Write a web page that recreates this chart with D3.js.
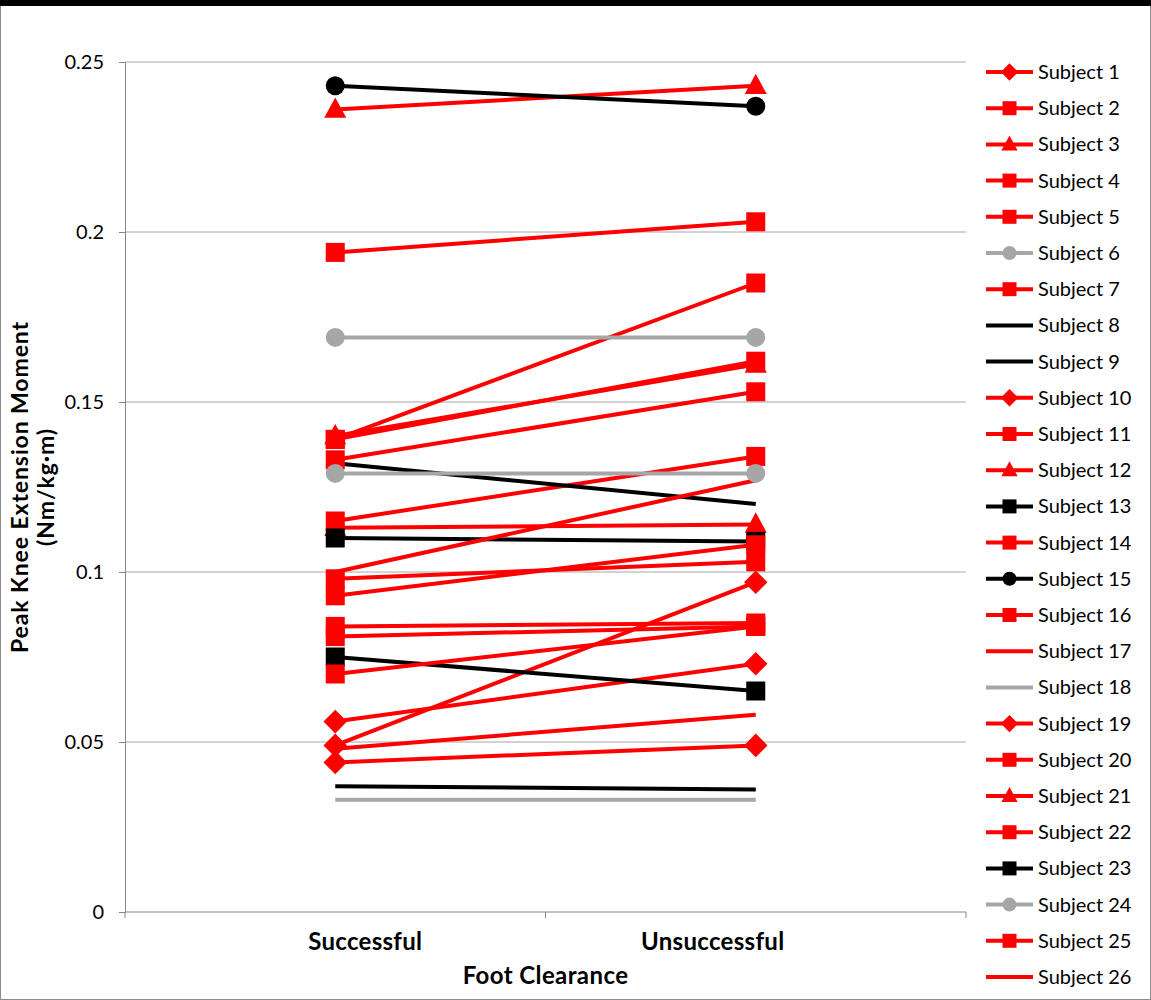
<!DOCTYPE html>
<html>
<head>
<meta charset="utf-8">
<script src="https://cdn.jsdelivr.net/npm/d3@7"></script>
<style>
  body { margin: 0; background: #fff; }
  text { font-family: Lato, "Noto Sans", sans-serif; fill: #000; }
</style>
</head>
<body>
<div id="chart"></div>
<script>
// categories on the x axis
const categories = ["Successful", "Unsuccessful"];
const yTicks = [0, 0.05, 0.1, 0.15, 0.2, 0.25];

// one entry per subject: [successful, unsuccessful]
const subjects = ["Subject 1","Subject 2","Subject 3","Subject 4","Subject 5","Subject 6","Subject 7",
  "Subject 8","Subject 9","Subject 10","Subject 11","Subject 12","Subject 13","Subject 14","Subject 15",
  "Subject 16","Subject 17","Subject 18","Subject 19","Subject 20","Subject 21","Subject 22","Subject 23",
  "Subject 24","Subject 25","Subject 26"];
const values = [
  [0.044, 0.049], [0.194, 0.203], [0.236, 0.243], [0.139, 0.185], [0.115, 0.134],
  [0.169, 0.169], [0.098, 0.103], [0.132, 0.120], [0.037, 0.036], [0.049, 0.097],
  [0.139, 0.162], [0.113, 0.114], [0.110, 0.109], [0.093, 0.108], [0.243, 0.237],
  [0.084, 0.085], [0.100, 0.127], [0.033, 0.033], [0.056, 0.073], [0.133, 0.153],
  [0.140, 0.161], [0.081, 0.084], [0.075, 0.065], [0.129, 0.129], [0.070, 0.084],
  [0.048, 0.058]
];
const colorsBySubject = ["red","red","red","red","red","gray","red","black","black","red","red","red","black",
  "red","black","red","red","gray","red","red","red","red","black","gray","red","red"];
const markersBySubject = ["diamond","square","triangle","square","square","circle","square","none","none",
  "diamond","square","triangle","square","square","circle","square","none","none","diamond","square",
  "triangle","square","square","circle","square","none"];

const colorMap = { red: "#ff0000", black: "#000000", gray: "#a6a6a6" };

const W = 1151, H = 1000;
const plot = { left: 125, right: 966, top: 62, bottom: 912 };

const svg = d3.select("#chart").append("svg")
  .attr("width", W).attr("height", H);

// frame
svg.append("rect").attr("x", 0.5).attr("y", 0.5).attr("width", W - 1).attr("height", H - 1)
  .attr("fill", "#fff").attr("stroke", "#8c8c8c");
svg.append("rect").attr("x", 0).attr("y", 0).attr("width", W).attr("height", 6).attr("fill", "#000");

const x = d3.scaleBand().domain(categories).range([plot.left, plot.right]);
const y = d3.scaleLinear().domain([0, 0.25]).range([plot.bottom, plot.top]);

// gridlines
svg.append("g").selectAll("line").data(yTicks.filter(d => d > 0)).join("line")
  .attr("x1", plot.left).attr("x2", plot.right)
  .attr("y1", d => y(d)).attr("y2", d => y(d))
  .attr("stroke", "#a6a6a6").attr("stroke-width", 1);

// y axis
const yAxis = svg.append("g").attr("transform", `translate(${plot.left},0)`)
  .call(d3.axisLeft(y).tickValues(yTicks).tickFormat(d => d === 0 ? "0" : String(d)).tickSize(6).tickPadding(15));
yAxis.select(".domain").attr("stroke", "#868686");
yAxis.selectAll(".tick line").attr("stroke", "#868686");
yAxis.selectAll(".tick text").style("font-size", "20px").attr("fill", "#000");

// x axis
const xAxis = svg.append("g").attr("transform", `translate(0,${plot.bottom})`)
  .call(d3.axisBottom(x).tickSize(0).tickFormat(""));
xAxis.select(".domain").attr("stroke", "#868686").attr("d", `M${plot.left},0H${plot.right}`);
svg.append("g").selectAll("line")
  .data([plot.left, ...categories.map(c => x(c) + x.bandwidth())]).join("line")
  .attr("x1", d => d).attr("x2", d => d)
  .attr("y1", plot.bottom).attr("y2", plot.bottom + 6)
  .attr("stroke", "#868686");

const labelShift = { "Successful": 30, "Unsuccessful": -43 };
svg.append("g").selectAll("text").data(categories).join("text")
  .attr("x", d => x(d) + x.bandwidth() / 2 + labelShift[d])
  .attr("y", 950)
  .attr("text-anchor", "middle")
  .style("font-size", "24px").style("font-weight", "bold").style("letter-spacing", "0.3px")
  .text(d => d);

svg.append("text").attr("x", (plot.left + plot.right) / 2).attr("y", 984)
  .attr("text-anchor", "middle").style("font-size", "24px").style("font-weight", "bold")
  .style("letter-spacing", "0.4px")
  .text("Foot Clearance");

const yTitle = svg.append("text")
  .attr("transform", `translate(28,${(plot.top + plot.bottom) / 2}) rotate(-90)`)
  .attr("text-anchor", "middle").style("font-size", "23px").style("font-weight", "bold")
  .style("letter-spacing", "0.9px");
yTitle.append("tspan").attr("x", 0).attr("dy", 0).text("Peak Knee Extension Moment");
yTitle.append("tspan").attr("x", 0).attr("dy", 26).text("(Nm/kg\u00b7m)");

// marker drawing
function drawMarker(g, type, cx, cy, size, fill) {
  if (type === "none") return;
  if (type === "square") {
    g.append("rect").attr("x", cx - size / 2).attr("y", cy - size / 2)
      .attr("width", size).attr("height", size).attr("fill", fill);
  } else if (type === "circle") {
    g.append("circle").attr("cx", cx).attr("cy", cy).attr("r", size / 2).attr("fill", fill);
  } else if (type === "diamond") {
    const s = size * 0.62;
    g.append("path").attr("d", `M${cx},${cy - s}L${cx + s},${cy}L${cx},${cy + s}L${cx - s},${cy}Z`).attr("fill", fill);
  } else if (type === "triangle") {
    const s = size * 0.58;
    g.append("path").attr("d", `M${cx},${cy - s * 1.1}L${cx + s},${cy + s * 0.75}L${cx - s},${cy + s * 0.75}Z`).attr("fill", fill);
  }
}

const cx = c => x(c) + x.bandwidth() / 2;
const line = d3.line().x(d => cx(d.cat)).y(d => y(d.v));

subjects.forEach((name, i) => {
  const col = colorMap[colorsBySubject[i]];
  const pts = categories.map((c, j) => ({ cat: c, v: values[i][j] }));
  const g = svg.append("g").attr("class", "series");
  g.append("path").datum(pts).attr("d", line)
    .attr("fill", "none").attr("stroke", col).attr("stroke-width", 4);
  pts.forEach(p => drawMarker(g, markersBySubject[i], cx(p.cat), y(p.v), 19, col));
});

// legend
const legend = svg.append("g");
const rowY = d3.scalePoint().domain(subjects).range([72, 977]);
subjects.forEach((name, i) => {
  const col = colorMap[colorsBySubject[i]];
  const yy = rowY(name);
  const g = legend.append("g");
  g.append("line").attr("x1", 986).attr("x2", 1033).attr("y1", yy).attr("y2", yy)
    .attr("stroke", col).attr("stroke-width", 4);
  drawMarker(g, markersBySubject[i], 1009.5, yy, 14, col);
  g.append("text").attr("x", 1038).attr("y", yy).attr("dy", "0.35em")
    .style("font-size", "20px").attr("fill", "#222").text(name);
});
</script>
</body>
</html>
